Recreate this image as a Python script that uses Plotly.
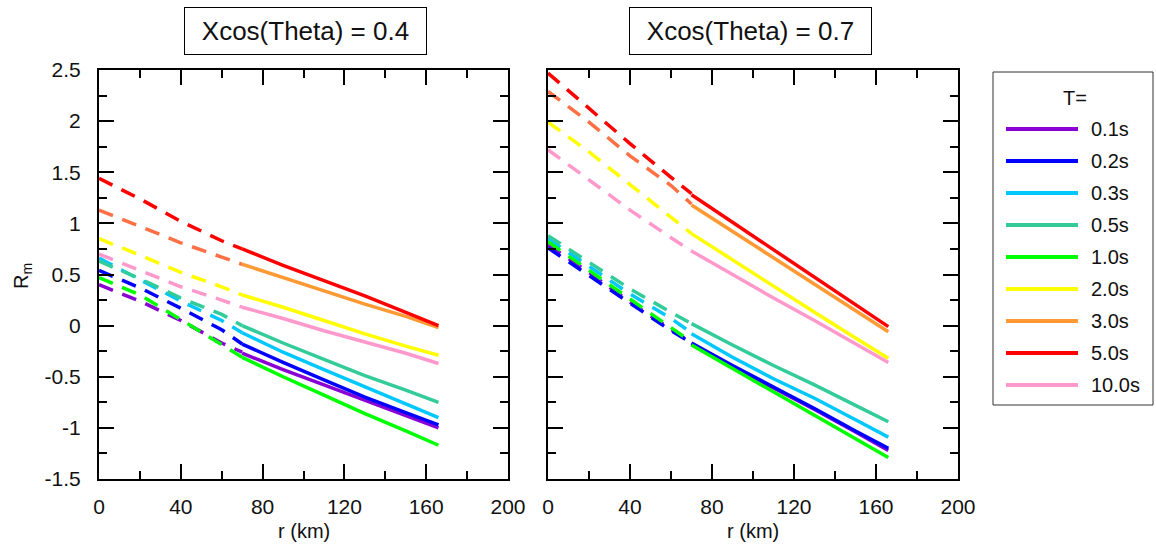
import plotly.graph_objects as go

# Periods and their line colours
periods = ["0.1s", "0.2s", "0.3s", "0.5s", "1.0s", "2.0s", "3.0s", "5.0s", "10.0s"]
colors = ["#8A00D4", "#0000FF", "#00C8FF", "#33CC99", "#00FF00",
          "#FFFF00", "#FF9933", "#FF0000", "#FF99CC"]
dash_colors = ["#8A00D4", "#0000FF", "#00C8FF", "#33CC99", "#00FF00",
               "#FFFF00", "#FF7044", "#FF0000", "#FF99CC"]

# Distances (km): extrapolated part (dashed) and data range (solid)
r_dashed = [0, 20, 40, 60, 70]
r_solid = [70, 90, 110, 130, 150, 166]

# Rm for Xcos(Theta) = 0.4, one row per period
rm_dashed_04 = [
    [0.40, 0.24, 0.05, -0.17, -0.26],
    [0.54, 0.37, 0.17, -0.04, -0.18],
    [0.66, 0.45, 0.24, 0.05, -0.07],
    [0.63, 0.46, 0.27, 0.11, 0.00],
    [0.47, 0.30, 0.06, -0.19, -0.31],
    [0.85, 0.69, 0.52, 0.38, 0.30],
    [1.13, 0.97, 0.81, 0.67, 0.60],
    [1.44, 1.24, 1.02, 0.83, 0.75],
    [0.70, 0.54, 0.38, 0.25, 0.18],
]
rm_solid_04 = [
    [-0.27, -0.43, -0.58, -0.73, -0.88, -1.00],
    [-0.18, -0.36, -0.53, -0.70, -0.85, -0.97],
    [-0.07, -0.26, -0.43, -0.60, -0.77, -0.90],
    [0.00, -0.17, -0.33, -0.49, -0.63, -0.75],
    [-0.31, -0.50, -0.68, -0.86, -1.03, -1.17],
    [0.30, 0.18, 0.05, -0.08, -0.20, -0.29],
    [0.60, 0.47, 0.34, 0.21, 0.09, -0.02],
    [0.75, 0.59, 0.44, 0.29, 0.13, 0.00],
    [0.18, 0.07, -0.05, -0.16, -0.27, -0.37],
]

# Rm for Xcos(Theta) = 0.7
rm_dashed_07 = [
    [0.79, 0.52, 0.23, -0.03, -0.17],
    [0.76, 0.49, 0.21, -0.05, -0.17],
    [0.85, 0.58, 0.31, 0.07, -0.07],
    [0.88, 0.62, 0.36, 0.13, 0.02],
    [0.82, 0.54, 0.25, -0.02, -0.16],
    [1.99, 1.70, 1.38, 1.06, 0.90],
    [2.29, 1.99, 1.66, 1.37, 1.19],
    [2.47, 2.12, 1.78, 1.45, 1.29],
    [1.72, 1.43, 1.13, 0.86, 0.73],
]
rm_solid_07 = [
    [-0.18, -0.40, -0.61, -0.82, -1.04, -1.22],
    [-0.17, -0.39, -0.60, -0.81, -1.03, -1.20],
    [-0.08, -0.31, -0.52, -0.71, -0.92, -1.09],
    [0.02, -0.19, -0.39, -0.58, -0.78, -0.94],
    [-0.19, -0.42, -0.65, -0.88, -1.11, -1.29],
    [0.90, 0.64, 0.38, 0.13, -0.12, -0.32],
    [1.18, 0.92, 0.66, 0.40, 0.15, -0.06],
    [1.28, 1.01, 0.75, 0.48, 0.21, -0.01],
    [0.73, 0.50, 0.27, 0.05, -0.18, -0.36],
]

panel_titles = ["Xcos(Theta) = 0.4", "Xcos(Theta) = 0.7"]
y_tick_vals = [-1.5, -1, -0.5, 0, 0.5, 1, 1.5, 2, 2.5]
y_tick_text = ["-1.5", "-1", "-0.5", "0", "0.5", "1", "1.5", "2", "2.5"]
x_tick_vals = [0, 40, 80, 120, 160, 200]

W, H = 1156, 545
FONT = "Liberation Sans, Arial, sans-serif"


def fx(px):
    return px / W


def fy(py):
    return 1 - py / H


fig = go.Figure()

panels = [("x", "y", rm_dashed_04, rm_solid_04), ("x2", "y2", rm_dashed_07, rm_solid_07)]
for xa, ya, dashed, solid in panels:
    for i, name in enumerate(periods):
        fig.add_trace(go.Scatter(
            x=r_dashed, y=dashed[i], xaxis=xa, yaxis=ya, mode="lines",
            line=dict(color=dash_colors[i], width=3.5, dash="15px,10px"),
            showlegend=False, hoverinfo="skip"))
        fig.add_trace(go.Scatter(
            x=r_solid, y=solid[i], xaxis=xa, yaxis=ya, mode="lines",
            line=dict(color=colors[i], width=3.5),
            name=name, showlegend=False))

axis_common = dict(
    showline=True, linecolor="black", linewidth=2, mirror="allticks",
    ticks="inside", tickcolor="black", tickwidth=2, ticklen=15,
    showgrid=False, zeroline=False, fixedrange=True, automargin=False,
    tickfont=dict(family=FONT, size=21, color="#111"),
)
x_common = dict(axis_common, range=[0, 200], tickvals=x_tick_vals,
                minor=dict(ticks="inside", dtick=20, tick0=0, ticklen=8,
                           tickwidth=2, tickcolor="black"),
                ticklabelstandoff=8)
y_common = dict(axis_common, range=[-1.5, 2.5], tickvals=y_tick_vals,
                minor=dict(ticks="inside", dtick=0.25, tick0=0, ticklen=8,
                           tickwidth=2, tickcolor="black"))

fig.update_layout(
    width=W, height=H, autosize=False,
    margin=dict(l=0, r=0, t=0, b=0, pad=0, autoexpand=False),
    paper_bgcolor="white", plot_bgcolor="white",
    showlegend=False,
    xaxis=dict(x_common, domain=[fx(99), fx(508)], anchor="y"),
    xaxis2=dict(x_common, domain=[fx(548), fx(958)], anchor="y2"),
    yaxis=dict(y_common, domain=[fy(479), fy(70)], anchor="x",
               ticktext=y_tick_text, ticklabelstandoff=12),
    yaxis2=dict(y_common, domain=[fy(479), fy(70)], anchor="x2",
                showticklabels=False),
)

annotations = []
shapes = []

# Panel titles in framed boxes
for cx, text in zip([305.5, 750.5], panel_titles):
    annotations.append(dict(
        xref="paper", yref="paper", x=fx(cx), y=fy(31), xanchor="center", yanchor="middle",
        text=text, showarrow=False, width=241, height=46, borderpad=0,
        bordercolor="black", borderwidth=1, bgcolor="white",
        font=dict(family=FONT, size=26, color="#111")))

# Axis titles
for cx in [303.5, 753]:
    annotations.append(dict(
        xref="paper", yref="paper", x=fx(cx), y=fy(531), xanchor="center", yanchor="middle",
        text="r (km)", showarrow=False, font=dict(family=FONT, size=20, color="#111")))
annotations.append(dict(
    xref="paper", yref="paper", x=fx(22), y=fy(276), xanchor="center", yanchor="middle",
    text="R<sub>m</sub>", textangle=-90, showarrow=False,
    font=dict(family=FONT, size=20, color="#111")))

# Legend box
shapes.append(dict(type="rect", xref="paper", yref="paper",
                   x0=fx(993), x1=fx(1153), y0=fy(405), y1=fy(72),
                   line=dict(color="#333", width=1), fillcolor="white", layer="below"))
annotations.append(dict(
    xref="paper", yref="paper", x=fx(1075), y=fy(98), xanchor="center", yanchor="middle",
    text="T=", showarrow=False, font=dict(family=FONT, size=20, color="#111")))
for i, name in enumerate(periods):
    yy = 129 + 32 * i
    shapes.append(dict(type="line", xref="paper", yref="paper",
                       x0=fx(1006), x1=fx(1078), y0=fy(yy), y1=fy(yy),
                       line=dict(color=colors[i], width=4)))
    annotations.append(dict(
        xref="paper", yref="paper", x=fx(1089), y=fy(yy), xanchor="left", yanchor="middle",
        text=name, showarrow=False, font=dict(family=FONT, size=20, color="#111")))

fig.update_layout(annotations=annotations, shapes=shapes)

fig.write_html("out.html")
